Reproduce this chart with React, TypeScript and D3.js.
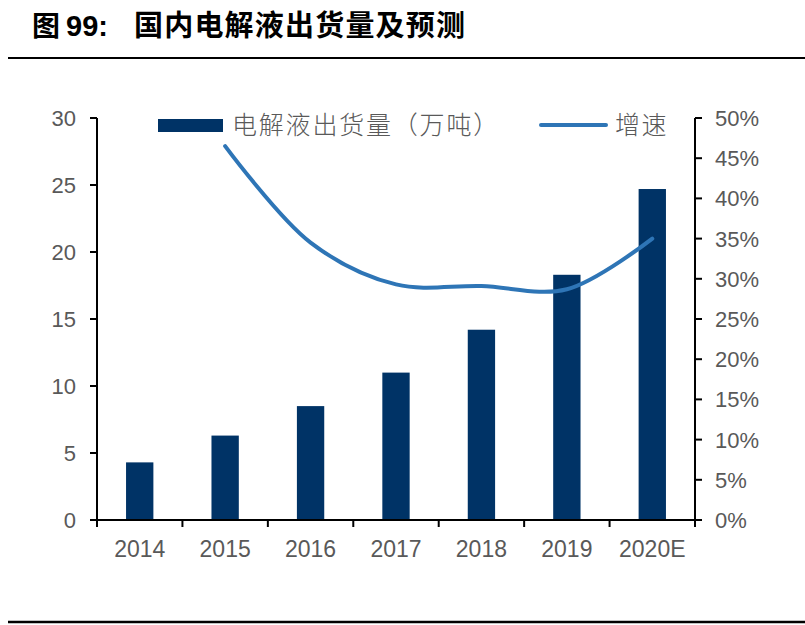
import React from "react";
import * as d3 from "d3";

const categories = ["2014", "2015", "2016", "2017", "2018", "2019", "2020E"];
const shipments = [4.3, 6.3, 8.5, 11.0, 14.2, 18.3, 24.7];
const growthYears = ["2015", "2016", "2017", "2018", "2019", "2020E"];
const growth = [46.5, 34.5, 29.3, 29.1, 28.7, 35.0];
const leftTicks = [0, 5, 10, 15, 20, 25, 30];
const rightTicks = [0, 5, 10, 15, 20, 25, 30, 35, 40, 45, 50];
const titlePrefix = "图";
const titleNum = "99:";
const titleText = "国内电解液出货量及预测";
const legendBar = "电解液出货量（万吨）";
const legendLine = "增速";

const W = 805, H = 625;
const L = 97, R = 695, T = 118, B = 520;
const barColor = "#003366";
const lineColor = "#2E75B6";
const textColor = "#595959";
const numFont = "'Liberation Sans', Arial, sans-serif";
const cjkFont = "'Noto Sans CJK SC', sans-serif";

export default function App() {
  const x = d3.scaleBand<string>().domain(categories).range([L, R]).paddingInner(0.68).paddingOuter(0.34);
  const xStep = d3.scaleBand<string>().domain(categories).range([L, R]);
  const yL = d3.scaleLinear().domain([0, 30]).range([B, T]);
  const yR = d3.scaleLinear().domain([0, 50]).range([B, T]);
  const line = d3
    .line<number>()
    .x((_, i) => (xStep(growthYears[i]) as number) + xStep.bandwidth() / 2)
    .y((d) => yR(d))
    .curve(d3.curveCatmullRom.alpha(0.5));
  const boundaries = d3.range(categories.length + 1).map((i) => L + i * xStep.step());

  return (
    <svg width={W} height={H} style={{ position: "absolute", left: 0, top: 0, background: "#fff" }}>
      <rect x={0} y={0} width={W} height={H} fill="#fff" />
      {/* title */}
      <text x={32} y={36} fontFamily={cjkFont} fontWeight={700} fontSize={28} fill="#000">{titlePrefix}</text>
      <text x={66} y={36} fontFamily={numFont} fontWeight={700} fontSize={29} fill="#000">{titleNum}</text>
      <text x={134} y={36} fontFamily={cjkFont} fontWeight={700} fontSize={29} letterSpacing={1.2} fill="#000">{titleText}</text>
      <line x1={8} x2={W} y1={58} y2={58} stroke="#000" strokeWidth={2} />
      <line x1={8} x2={W} y1={622} y2={622} stroke="#000" strokeWidth={2.5} />

      {/* bars */}
      {shipments.map((v, i) => (
        <rect key={categories[i]} x={x(categories[i])} y={yL(v)} width={x.bandwidth()} height={B - yL(v)} fill={barColor} />
      ))}

      {/* line */}
      <path d={line(growth) || ""} fill="none" stroke={lineColor} strokeWidth={4} strokeLinecap="round" />

      {/* left axis */}
      <line x1={L} x2={L} y1={T} y2={B} stroke="#000" strokeWidth={2} />
      {leftTicks.map((t) => (
        <g key={"l" + t}>
          <line x1={L - 7} x2={L} y1={yL(t)} y2={yL(t)} stroke="#000" strokeWidth={2} />
          <text x={76} y={yL(t)} dy="0.36em" textAnchor="end" fontFamily={numFont} fontSize={22} fill={textColor}>{t}</text>
        </g>
      ))}

      {/* right axis */}
      <line x1={R} x2={R} y1={T} y2={B} stroke="#000" strokeWidth={2} />
      {rightTicks.map((t) => (
        <g key={"r" + t}>
          <line x1={R} x2={R + 7} y1={yR(t)} y2={yR(t)} stroke="#000" strokeWidth={2} />
          <text x={715} y={yR(t)} dy="0.36em" textAnchor="start" fontFamily={numFont} fontSize={22} fill={textColor}>{t + "%"}</text>
        </g>
      ))}

      {/* bottom axis */}
      <line x1={L - 7} x2={R} y1={B} y2={B} stroke="#000" strokeWidth={2} />
      {boundaries.map((bx, i) => (
        <line key={"b" + i} x1={bx} x2={bx} y1={B} y2={B + 7} stroke="#000" strokeWidth={2} />
      ))}
      {categories.map((c) => (
        <text key={"x" + c} x={(xStep(c) as number) + xStep.bandwidth() / 2} y={557} textAnchor="middle" fontFamily={numFont} fontSize={23} fill={textColor}>{c}</text>
      ))}

      {/* legend */}
      <rect x={158} y={119} width={65} height={13} fill={barColor} />
      <text x={232} y={134} fontFamily={cjkFont} fontWeight={300} fontSize={25} letterSpacing={1.8} fill={textColor}>{legendBar}</text>
      <line x1={541} x2={606} y1={125} y2={125} stroke={lineColor} strokeWidth={4} strokeLinecap="round" />
      <text x={615} y={134} fontFamily={cjkFont} fontWeight={300} fontSize={25} letterSpacing={1.5} fill={textColor}>{legendLine}</text>
    </svg>
  );
}
